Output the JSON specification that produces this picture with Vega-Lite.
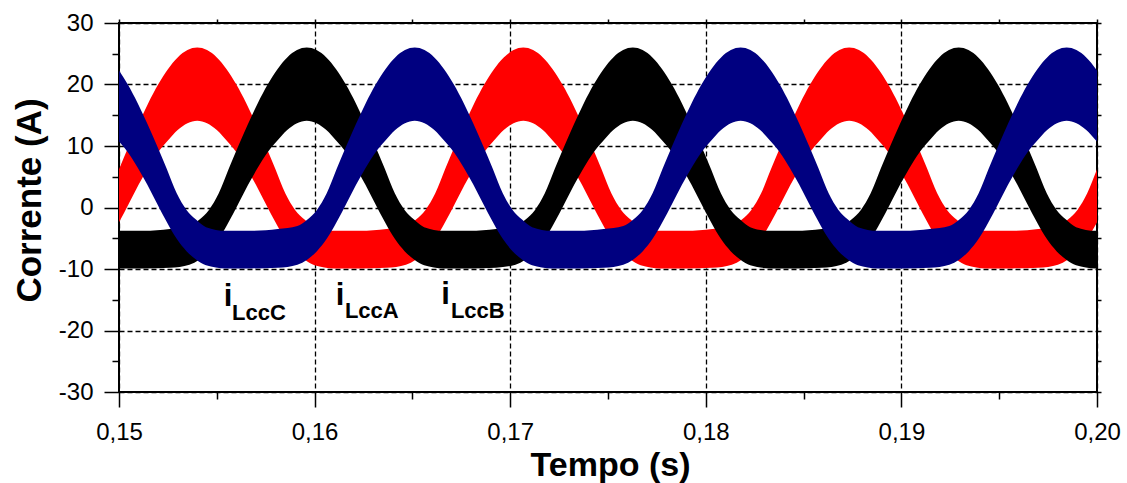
{
  "$schema": "https://vega.github.io/schema/vega-lite/v6.json",
  "autosize": {"type": "none"},
  "padding": {"left": 119, "top": 23, "right": 30, "bottom": 91},
  "width": 978,
  "height": 369,
  "background": "#ffffff",
  "config": {
    "font": "Liberation Sans",
    "view": {"stroke": "#000000", "strokeWidth": 2},
    "axis": {"tickColor": "#000000", "tickWidth": 1.5, "domain": false, "labelColor": "#000000", "titleColor": "#000000"}
  },
  "datasets": {
    "labels": [
      {"main": "i", "sub": "LccC", "t": 0.15557, "y": -16.0, "ts": 0.15578, "ys": -18.3},
      {"main": "i", "sub": "LccA", "t": 0.16130, "y": -15.85, "ts": 0.16155, "ys": -18.0},
      {"main": "i", "sub": "LccB", "t": 0.16669, "y": -15.7, "ts": 0.16697, "ys": -18.0}
    ],
    "currents": [
      {"s":"A","t":0.14567,"hi":-3.8,"lo":-9.9},
      {"s":"A","t":0.14700,"hi":-3.5,"lo":-9.8},
      {"s":"A","t":0.14800,"hi":-3.0,"lo":-9.3},
      {"s":"A","t":0.14850,"hi":-2.0,"lo":-8.5},
      {"s":"A","t":0.14900,"hi":-0.4,"lo":-7.1},
      {"s":"A","t":0.14950,"hi":2.3,"lo":-5.1},
      {"s":"A","t":0.15000,"hi":6.2,"lo":-2.4},
      {"s":"A","t":0.15050,"hi":10.0,"lo":0.6},
      {"s":"A","t":0.15100,"hi":13.6,"lo":3.7},
      {"s":"A","t":0.15150,"hi":17.0,"lo":6.5},
      {"s":"A","t":0.15200,"hi":20.0,"lo":9.0},
      {"s":"A","t":0.15250,"hi":22.5,"lo":10.9},
      {"s":"A","t":0.15300,"hi":24.4,"lo":12.6},
      {"s":"A","t":0.15350,"hi":25.6,"lo":13.7},
      {"s":"A","t":0.15400,"hi":26.0,"lo":14.1},
      {"s":"A","t":0.15450,"hi":25.6,"lo":13.7},
      {"s":"A","t":0.15500,"hi":24.4,"lo":12.6},
      {"s":"A","t":0.15550,"hi":22.5,"lo":10.9},
      {"s":"A","t":0.15600,"hi":20.0,"lo":9.0},
      {"s":"A","t":0.15650,"hi":17.0,"lo":6.5},
      {"s":"A","t":0.15700,"hi":13.6,"lo":3.7},
      {"s":"A","t":0.15750,"hi":10.0,"lo":0.6},
      {"s":"A","t":0.15800,"hi":6.2,"lo":-2.4},
      {"s":"A","t":0.15850,"hi":2.3,"lo":-5.1},
      {"s":"A","t":0.15900,"hi":-0.4,"lo":-7.1},
      {"s":"A","t":0.15950,"hi":-2.0,"lo":-8.5},
      {"s":"A","t":0.16000,"hi":-3.2,"lo":-9.4},
      {"s":"A","t":0.16100,"hi":-3.8,"lo":-9.9},
      {"s":"A","t":0.16233,"hi":-3.8,"lo":-9.9},
      {"s":"A","t":0.16367,"hi":-3.5,"lo":-9.8},
      {"s":"A","t":0.16467,"hi":-3.0,"lo":-9.3},
      {"s":"A","t":0.16517,"hi":-2.0,"lo":-8.5},
      {"s":"A","t":0.16567,"hi":-0.4,"lo":-7.1},
      {"s":"A","t":0.16617,"hi":2.3,"lo":-5.1},
      {"s":"A","t":0.16667,"hi":6.2,"lo":-2.4},
      {"s":"A","t":0.16717,"hi":10.0,"lo":0.6},
      {"s":"A","t":0.16767,"hi":13.6,"lo":3.7},
      {"s":"A","t":0.16817,"hi":17.0,"lo":6.5},
      {"s":"A","t":0.16867,"hi":20.0,"lo":9.0},
      {"s":"A","t":0.16917,"hi":22.5,"lo":10.9},
      {"s":"A","t":0.16967,"hi":24.4,"lo":12.6},
      {"s":"A","t":0.17017,"hi":25.6,"lo":13.7},
      {"s":"A","t":0.17067,"hi":26.0,"lo":14.1},
      {"s":"A","t":0.17117,"hi":25.6,"lo":13.7},
      {"s":"A","t":0.17167,"hi":24.4,"lo":12.6},
      {"s":"A","t":0.17217,"hi":22.5,"lo":10.9},
      {"s":"A","t":0.17267,"hi":20.0,"lo":9.0},
      {"s":"A","t":0.17317,"hi":17.0,"lo":6.5},
      {"s":"A","t":0.17367,"hi":13.6,"lo":3.7},
      {"s":"A","t":0.17417,"hi":10.0,"lo":0.6},
      {"s":"A","t":0.17467,"hi":6.2,"lo":-2.4},
      {"s":"A","t":0.17517,"hi":2.3,"lo":-5.1},
      {"s":"A","t":0.17567,"hi":-0.4,"lo":-7.1},
      {"s":"A","t":0.17617,"hi":-2.0,"lo":-8.5},
      {"s":"A","t":0.17667,"hi":-3.2,"lo":-9.4},
      {"s":"A","t":0.17767,"hi":-3.8,"lo":-9.9},
      {"s":"A","t":0.17900,"hi":-3.8,"lo":-9.9},
      {"s":"A","t":0.18033,"hi":-3.5,"lo":-9.8},
      {"s":"A","t":0.18133,"hi":-3.0,"lo":-9.3},
      {"s":"A","t":0.18183,"hi":-2.0,"lo":-8.5},
      {"s":"A","t":0.18233,"hi":-0.4,"lo":-7.1},
      {"s":"A","t":0.18283,"hi":2.3,"lo":-5.1},
      {"s":"A","t":0.18333,"hi":6.2,"lo":-2.4},
      {"s":"A","t":0.18383,"hi":10.0,"lo":0.6},
      {"s":"A","t":0.18433,"hi":13.6,"lo":3.7},
      {"s":"A","t":0.18483,"hi":17.0,"lo":6.5},
      {"s":"A","t":0.18533,"hi":20.0,"lo":9.0},
      {"s":"A","t":0.18583,"hi":22.5,"lo":10.9},
      {"s":"A","t":0.18633,"hi":24.4,"lo":12.6},
      {"s":"A","t":0.18683,"hi":25.6,"lo":13.7},
      {"s":"A","t":0.18733,"hi":26.0,"lo":14.1},
      {"s":"A","t":0.18783,"hi":25.6,"lo":13.7},
      {"s":"A","t":0.18833,"hi":24.4,"lo":12.6},
      {"s":"A","t":0.18883,"hi":22.5,"lo":10.9},
      {"s":"A","t":0.18933,"hi":20.0,"lo":9.0},
      {"s":"A","t":0.18983,"hi":17.0,"lo":6.5},
      {"s":"A","t":0.19033,"hi":13.6,"lo":3.7},
      {"s":"A","t":0.19083,"hi":10.0,"lo":0.6},
      {"s":"A","t":0.19133,"hi":6.2,"lo":-2.4},
      {"s":"A","t":0.19183,"hi":2.3,"lo":-5.1},
      {"s":"A","t":0.19233,"hi":-0.4,"lo":-7.1},
      {"s":"A","t":0.19283,"hi":-2.0,"lo":-8.5},
      {"s":"A","t":0.19333,"hi":-3.2,"lo":-9.4},
      {"s":"A","t":0.19433,"hi":-3.8,"lo":-9.9},
      {"s":"A","t":0.19567,"hi":-3.8,"lo":-9.9},
      {"s":"A","t":0.19700,"hi":-3.5,"lo":-9.8},
      {"s":"A","t":0.19800,"hi":-3.0,"lo":-9.3},
      {"s":"A","t":0.19850,"hi":-2.0,"lo":-8.5},
      {"s":"A","t":0.19900,"hi":-0.4,"lo":-7.1},
      {"s":"A","t":0.19950,"hi":2.3,"lo":-5.1},
      {"s":"A","t":0.20000,"hi":6.2,"lo":-2.4},
      {"s":"A","t":0.20050,"hi":10.0,"lo":0.6},
      {"s":"A","t":0.20100,"hi":13.6,"lo":3.7},
      {"s":"A","t":0.20150,"hi":17.0,"lo":6.5},

      {"s":"B","t":0.14843,"hi":-2.0,"lo":-8.5},
      {"s":"B","t":0.14893,"hi":-3.2,"lo":-9.4},
      {"s":"B","t":0.14993,"hi":-3.8,"lo":-9.9},
      {"s":"B","t":0.15127,"hi":-3.8,"lo":-9.9},
      {"s":"B","t":0.15260,"hi":-3.5,"lo":-9.8},
      {"s":"B","t":0.15360,"hi":-3.0,"lo":-9.3},
      {"s":"B","t":0.15410,"hi":-2.0,"lo":-8.5},
      {"s":"B","t":0.15460,"hi":-0.4,"lo":-7.1},
      {"s":"B","t":0.15510,"hi":2.3,"lo":-5.1},
      {"s":"B","t":0.15560,"hi":6.2,"lo":-2.4},
      {"s":"B","t":0.15610,"hi":10.0,"lo":0.6},
      {"s":"B","t":0.15660,"hi":13.6,"lo":3.7},
      {"s":"B","t":0.15710,"hi":17.0,"lo":6.5},
      {"s":"B","t":0.15760,"hi":20.0,"lo":9.0},
      {"s":"B","t":0.15810,"hi":22.5,"lo":10.9},
      {"s":"B","t":0.15860,"hi":24.4,"lo":12.6},
      {"s":"B","t":0.15910,"hi":25.6,"lo":13.7},
      {"s":"B","t":0.15960,"hi":26.0,"lo":14.1},
      {"s":"B","t":0.16010,"hi":25.6,"lo":13.7},
      {"s":"B","t":0.16060,"hi":24.4,"lo":12.6},
      {"s":"B","t":0.16110,"hi":22.5,"lo":10.9},
      {"s":"B","t":0.16160,"hi":20.0,"lo":9.0},
      {"s":"B","t":0.16210,"hi":17.0,"lo":6.5},
      {"s":"B","t":0.16260,"hi":13.6,"lo":3.7},
      {"s":"B","t":0.16310,"hi":10.0,"lo":0.6},
      {"s":"B","t":0.16360,"hi":6.2,"lo":-2.4},
      {"s":"B","t":0.16410,"hi":2.3,"lo":-5.1},
      {"s":"B","t":0.16460,"hi":-0.4,"lo":-7.1},
      {"s":"B","t":0.16510,"hi":-2.0,"lo":-8.5},
      {"s":"B","t":0.16560,"hi":-3.2,"lo":-9.4},
      {"s":"B","t":0.16660,"hi":-3.8,"lo":-9.9},
      {"s":"B","t":0.16793,"hi":-3.8,"lo":-9.9},
      {"s":"B","t":0.16927,"hi":-3.5,"lo":-9.8},
      {"s":"B","t":0.17027,"hi":-3.0,"lo":-9.3},
      {"s":"B","t":0.17077,"hi":-2.0,"lo":-8.5},
      {"s":"B","t":0.17127,"hi":-0.4,"lo":-7.1},
      {"s":"B","t":0.17177,"hi":2.3,"lo":-5.1},
      {"s":"B","t":0.17227,"hi":6.2,"lo":-2.4},
      {"s":"B","t":0.17277,"hi":10.0,"lo":0.6},
      {"s":"B","t":0.17327,"hi":13.6,"lo":3.7},
      {"s":"B","t":0.17377,"hi":17.0,"lo":6.5},
      {"s":"B","t":0.17427,"hi":20.0,"lo":9.0},
      {"s":"B","t":0.17477,"hi":22.5,"lo":10.9},
      {"s":"B","t":0.17527,"hi":24.4,"lo":12.6},
      {"s":"B","t":0.17577,"hi":25.6,"lo":13.7},
      {"s":"B","t":0.17627,"hi":26.0,"lo":14.1},
      {"s":"B","t":0.17677,"hi":25.6,"lo":13.7},
      {"s":"B","t":0.17727,"hi":24.4,"lo":12.6},
      {"s":"B","t":0.17777,"hi":22.5,"lo":10.9},
      {"s":"B","t":0.17827,"hi":20.0,"lo":9.0},
      {"s":"B","t":0.17877,"hi":17.0,"lo":6.5},
      {"s":"B","t":0.17927,"hi":13.6,"lo":3.7},
      {"s":"B","t":0.17977,"hi":10.0,"lo":0.6},
      {"s":"B","t":0.18027,"hi":6.2,"lo":-2.4},
      {"s":"B","t":0.18077,"hi":2.3,"lo":-5.1},
      {"s":"B","t":0.18127,"hi":-0.4,"lo":-7.1},
      {"s":"B","t":0.18177,"hi":-2.0,"lo":-8.5},
      {"s":"B","t":0.18227,"hi":-3.2,"lo":-9.4},
      {"s":"B","t":0.18327,"hi":-3.8,"lo":-9.9},
      {"s":"B","t":0.18460,"hi":-3.8,"lo":-9.9},
      {"s":"B","t":0.18593,"hi":-3.5,"lo":-9.8},
      {"s":"B","t":0.18693,"hi":-3.0,"lo":-9.3},
      {"s":"B","t":0.18743,"hi":-2.0,"lo":-8.5},
      {"s":"B","t":0.18793,"hi":-0.4,"lo":-7.1},
      {"s":"B","t":0.18843,"hi":2.3,"lo":-5.1},
      {"s":"B","t":0.18893,"hi":6.2,"lo":-2.4},
      {"s":"B","t":0.18943,"hi":10.0,"lo":0.6},
      {"s":"B","t":0.18993,"hi":13.6,"lo":3.7},
      {"s":"B","t":0.19043,"hi":17.0,"lo":6.5},
      {"s":"B","t":0.19093,"hi":20.0,"lo":9.0},
      {"s":"B","t":0.19143,"hi":22.5,"lo":10.9},
      {"s":"B","t":0.19193,"hi":24.4,"lo":12.6},
      {"s":"B","t":0.19243,"hi":25.6,"lo":13.7},
      {"s":"B","t":0.19293,"hi":26.0,"lo":14.1},
      {"s":"B","t":0.19343,"hi":25.6,"lo":13.7},
      {"s":"B","t":0.19393,"hi":24.4,"lo":12.6},
      {"s":"B","t":0.19443,"hi":22.5,"lo":10.9},
      {"s":"B","t":0.19493,"hi":20.0,"lo":9.0},
      {"s":"B","t":0.19543,"hi":17.0,"lo":6.5},
      {"s":"B","t":0.19593,"hi":13.6,"lo":3.7},
      {"s":"B","t":0.19643,"hi":10.0,"lo":0.6},
      {"s":"B","t":0.19693,"hi":6.2,"lo":-2.4},
      {"s":"B","t":0.19743,"hi":2.3,"lo":-5.1},
      {"s":"B","t":0.19793,"hi":-0.4,"lo":-7.1},
      {"s":"B","t":0.19843,"hi":-2.0,"lo":-8.5},
      {"s":"B","t":0.19893,"hi":-3.2,"lo":-9.4},
      {"s":"B","t":0.19993,"hi":-3.8,"lo":-9.9},
      {"s":"B","t":0.20127,"hi":-3.8,"lo":-9.9},

      {"s":"C","t":0.14845,"hi":26.0,"lo":14.1},
      {"s":"C","t":0.14895,"hi":25.6,"lo":13.7},
      {"s":"C","t":0.14945,"hi":24.4,"lo":12.6},
      {"s":"C","t":0.14995,"hi":22.5,"lo":10.9},
      {"s":"C","t":0.15045,"hi":20.0,"lo":9.0},
      {"s":"C","t":0.15095,"hi":17.0,"lo":6.5},
      {"s":"C","t":0.15145,"hi":13.6,"lo":3.7},
      {"s":"C","t":0.15195,"hi":10.0,"lo":0.6},
      {"s":"C","t":0.15245,"hi":6.2,"lo":-2.4},
      {"s":"C","t":0.15295,"hi":2.3,"lo":-5.1},
      {"s":"C","t":0.15345,"hi":-0.4,"lo":-7.1},
      {"s":"C","t":0.15395,"hi":-2.0,"lo":-8.5},
      {"s":"C","t":0.15445,"hi":-3.2,"lo":-9.4},
      {"s":"C","t":0.15545,"hi":-3.8,"lo":-9.9},
      {"s":"C","t":0.15678,"hi":-3.8,"lo":-9.9},
      {"s":"C","t":0.15812,"hi":-3.5,"lo":-9.8},
      {"s":"C","t":0.15912,"hi":-3.0,"lo":-9.3},
      {"s":"C","t":0.15962,"hi":-2.0,"lo":-8.5},
      {"s":"C","t":0.16012,"hi":-0.4,"lo":-7.1},
      {"s":"C","t":0.16062,"hi":2.3,"lo":-5.1},
      {"s":"C","t":0.16112,"hi":6.2,"lo":-2.4},
      {"s":"C","t":0.16162,"hi":10.0,"lo":0.6},
      {"s":"C","t":0.16212,"hi":13.6,"lo":3.7},
      {"s":"C","t":0.16262,"hi":17.0,"lo":6.5},
      {"s":"C","t":0.16312,"hi":20.0,"lo":9.0},
      {"s":"C","t":0.16362,"hi":22.5,"lo":10.9},
      {"s":"C","t":0.16412,"hi":24.4,"lo":12.6},
      {"s":"C","t":0.16462,"hi":25.6,"lo":13.7},
      {"s":"C","t":0.16512,"hi":26.0,"lo":14.1},
      {"s":"C","t":0.16562,"hi":25.6,"lo":13.7},
      {"s":"C","t":0.16612,"hi":24.4,"lo":12.6},
      {"s":"C","t":0.16662,"hi":22.5,"lo":10.9},
      {"s":"C","t":0.16712,"hi":20.0,"lo":9.0},
      {"s":"C","t":0.16762,"hi":17.0,"lo":6.5},
      {"s":"C","t":0.16812,"hi":13.6,"lo":3.7},
      {"s":"C","t":0.16862,"hi":10.0,"lo":0.6},
      {"s":"C","t":0.16912,"hi":6.2,"lo":-2.4},
      {"s":"C","t":0.16962,"hi":2.3,"lo":-5.1},
      {"s":"C","t":0.17012,"hi":-0.4,"lo":-7.1},
      {"s":"C","t":0.17062,"hi":-2.0,"lo":-8.5},
      {"s":"C","t":0.17112,"hi":-3.2,"lo":-9.4},
      {"s":"C","t":0.17212,"hi":-3.8,"lo":-9.9},
      {"s":"C","t":0.17345,"hi":-3.8,"lo":-9.9},
      {"s":"C","t":0.17478,"hi":-3.5,"lo":-9.8},
      {"s":"C","t":0.17578,"hi":-3.0,"lo":-9.3},
      {"s":"C","t":0.17628,"hi":-2.0,"lo":-8.5},
      {"s":"C","t":0.17678,"hi":-0.4,"lo":-7.1},
      {"s":"C","t":0.17728,"hi":2.3,"lo":-5.1},
      {"s":"C","t":0.17778,"hi":6.2,"lo":-2.4},
      {"s":"C","t":0.17828,"hi":10.0,"lo":0.6},
      {"s":"C","t":0.17878,"hi":13.6,"lo":3.7},
      {"s":"C","t":0.17928,"hi":17.0,"lo":6.5},
      {"s":"C","t":0.17978,"hi":20.0,"lo":9.0},
      {"s":"C","t":0.18028,"hi":22.5,"lo":10.9},
      {"s":"C","t":0.18078,"hi":24.4,"lo":12.6},
      {"s":"C","t":0.18128,"hi":25.6,"lo":13.7},
      {"s":"C","t":0.18178,"hi":26.0,"lo":14.1},
      {"s":"C","t":0.18228,"hi":25.6,"lo":13.7},
      {"s":"C","t":0.18278,"hi":24.4,"lo":12.6},
      {"s":"C","t":0.18328,"hi":22.5,"lo":10.9},
      {"s":"C","t":0.18378,"hi":20.0,"lo":9.0},
      {"s":"C","t":0.18428,"hi":17.0,"lo":6.5},
      {"s":"C","t":0.18478,"hi":13.6,"lo":3.7},
      {"s":"C","t":0.18528,"hi":10.0,"lo":0.6},
      {"s":"C","t":0.18578,"hi":6.2,"lo":-2.4},
      {"s":"C","t":0.18628,"hi":2.3,"lo":-5.1},
      {"s":"C","t":0.18678,"hi":-0.4,"lo":-7.1},
      {"s":"C","t":0.18728,"hi":-2.0,"lo":-8.5},
      {"s":"C","t":0.18778,"hi":-3.2,"lo":-9.4},
      {"s":"C","t":0.18878,"hi":-3.8,"lo":-9.9},
      {"s":"C","t":0.19012,"hi":-3.8,"lo":-9.9},
      {"s":"C","t":0.19145,"hi":-3.5,"lo":-9.8},
      {"s":"C","t":0.19245,"hi":-3.0,"lo":-9.3},
      {"s":"C","t":0.19295,"hi":-2.0,"lo":-8.5},
      {"s":"C","t":0.19345,"hi":-0.4,"lo":-7.1},
      {"s":"C","t":0.19395,"hi":2.3,"lo":-5.1},
      {"s":"C","t":0.19445,"hi":6.2,"lo":-2.4},
      {"s":"C","t":0.19495,"hi":10.0,"lo":0.6},
      {"s":"C","t":0.19545,"hi":13.6,"lo":3.7},
      {"s":"C","t":0.19595,"hi":17.0,"lo":6.5},
      {"s":"C","t":0.19645,"hi":20.0,"lo":9.0},
      {"s":"C","t":0.19695,"hi":22.5,"lo":10.9},
      {"s":"C","t":0.19745,"hi":24.4,"lo":12.6},
      {"s":"C","t":0.19795,"hi":25.6,"lo":13.7},
      {"s":"C","t":0.19845,"hi":26.0,"lo":14.1},
      {"s":"C","t":0.19895,"hi":25.6,"lo":13.7},
      {"s":"C","t":0.19945,"hi":24.4,"lo":12.6},
      {"s":"C","t":0.19995,"hi":22.5,"lo":10.9},
      {"s":"C","t":0.20045,"hi":20.0,"lo":9.0},
      {"s":"C","t":0.20095,"hi":17.0,"lo":6.5}
    ]
  },
  "layer": [
    {
      "data": {"name": "currents"},
      "mark": {"type": "area", "interpolate": "monotone", "clip": true, "opacity": 1},
      "encoding": {
        "x": {
          "field": "t", "type": "quantitative",
          "scale": {"domain": [0.15, 0.2], "nice": false, "zero": false},
          "axis": {
            "orient": "bottom", "values": [0.15, 0.16, 0.17, 0.18, 0.19, 0.2],
            "tickSize": 15, "labelExpr": "replace(format(datum.value, '.2f'), '.', ',')",
            "labelFontSize": 24, "labelPadding": 13, "labelFlush": false,
            "grid": true, "gridColor": "#000000", "gridDash": [5, 3], "gridWidth": 1.3,
            "title": "Tempo (s)", "titleFontSize": 34, "titleFontWeight": "bold",
            "titleX": 491, "titleY": 83, "titleBaseline": "alphabetic", "titleAlign": "center"
          }
        },
        "y": {
          "field": "hi", "type": "quantitative", "stack": null,
          "scale": {"domain": [-30, 30], "nice": false, "zero": false},
          "axis": {
            "orient": "left", "values": [-30, -20, -10, 0, 10, 20, 30],
            "tickSize": 15, "labelExpr": "datum.value + ''",
            "labelFontSize": 24, "labelPadding": 11, "labelFlush": false,
            "grid": true, "gridColor": "#000000", "gridDash": [5, 3], "gridWidth": 1.3,
            "title": "Corrente (A)", "titleFontSize": 35, "titleFontWeight": "bold",
            "titleX": -79, "titleY": 177, "titleBaseline": "alphabetic", "titleAlign": "center", "titleAngle": -90
          }
        },
        "y2": {"field": "lo"},
        "color": {
          "field": "s", "type": "nominal",
          "scale": {"domain": ["A", "B", "C"], "range": ["#ff0000", "#000000", "#000080"]},
          "legend": null
        }
      }
    },
    {
      "data": {"name": "labels"},
      "mark": {"type": "text", "fontSize": 31, "fontWeight": "bold", "align": "center", "baseline": "alphabetic", "color": "#000000"},
      "encoding": {
        "x": {
          "field": "t", "type": "quantitative",
          "scale": {"domain": [0.15, 0.2], "nice": false, "zero": false},
          "axis": {"orient": "bottom", "values": [0.155, 0.165, 0.175, 0.185, 0.195], "tickSize": 7, "labels": false, "grid": false, "title": null}
        },
        "y": {
          "field": "y", "type": "quantitative",
          "scale": {"domain": [-30, 30], "nice": false, "zero": false},
          "axis": {"orient": "left", "values": [-25, -15, -5, 5, 15, 25], "tickSize": 7, "labels": false, "grid": false, "title": null}
        },
        "text": {"field": "main"}
      }
    },
    {
      "data": {"name": "labels"},
      "mark": {"type": "text", "fontSize": 22, "fontWeight": "bold", "align": "left", "baseline": "alphabetic", "color": "#000000"},
      "encoding": {
        "x": {
          "field": "ts", "type": "quantitative",
          "scale": {"domain": [0.15, 0.2], "nice": false, "zero": false},
          "axis": {"orient": "top", "values": [0.15, 0.155, 0.16, 0.165, 0.17, 0.175, 0.18, 0.185, 0.19, 0.195, 0.2], "tickSize": 4, "labels": false, "grid": false, "title": null}
        },
        "y": {
          "field": "ys", "type": "quantitative",
          "scale": {"domain": [-30, 30], "nice": false, "zero": false},
          "axis": {"orient": "right", "values": [-30, -25, -20, -15, -10, -5, 0, 5, 10, 15, 20, 25, 30], "tickSize": 4, "labels": false, "grid": false, "title": null}
        },
        "text": {"field": "sub"}
      }
    }
  ],
  "resolve": {"axis": {"x": "independent", "y": "independent"}}
}
